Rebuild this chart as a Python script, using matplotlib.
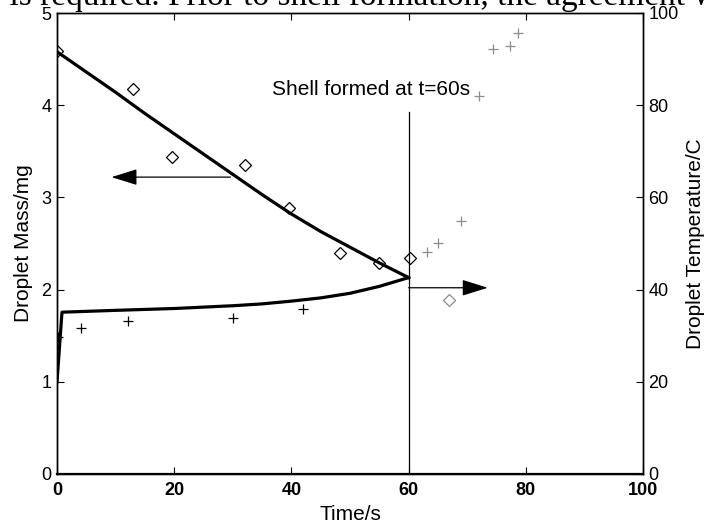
import matplotlib
matplotlib.use("Agg")
import matplotlib.pyplot as plt

plt.rcParams['font.family'] = ['Liberation Sans', 'DejaVu Sans']

# Measured droplet mass (mg) before and after shell formation
mass_t = [0, 13.0, 19.6, 32.1, 39.6, 48.3, 55.0, 60.2]
mass_val = [4.59, 4.18, 3.44, 3.35, 2.88, 2.40, 2.29, 2.34]
mass_t_after = [66.9]
mass_val_after = [1.89]

# Measured droplet temperature (C)
temp_t = [0.2, 4.1, 12.1, 30.0, 42.0]
temp_val = [29.7, 31.7, 33.2, 33.8, 35.8]
temp_t_after = [63.1, 65.0, 68.9, 72.0, 74.4, 77.3, 78.7]
temp_val_after = [48.2, 50.1, 54.9, 82.0, 92.2, 92.8, 95.7]

# Model predictions up to shell formation
model_t = [0, 5, 10, 15, 20, 25, 30, 35, 40, 45, 50, 55, 60]
model_mass = [4.58, 4.36, 4.14, 3.91, 3.69, 3.47, 3.25, 3.03, 2.82, 2.63, 2.46, 2.29, 2.13]
model_temp_t = [0, 0.85, 10, 20, 30, 35, 40, 45, 50, 55, 60]
model_temp = [20, 35.1, 35.5, 35.9, 36.5, 36.9, 37.5, 38.2, 39.2, 40.7, 42.6]

shell_time = 60
x_ticks = [0, 20, 40, 60, 80, 100]
mass_ticks = [0, 1, 2, 3, 4, 5]
temp_ticks = [0, 20, 40, 60, 80, 100]

fig = plt.figure(figsize=(7.04, 5.29), dpi=100)
ax = fig.add_axes([57 / 704, 1 - 474 / 529, 586 / 704, 461 / 529])
ax2 = ax.twinx()

gray = '0.55'

ax.plot(model_t, model_mass, color='black', lw=2.3, zorder=3,
        solid_joinstyle='round')
ax.plot(mass_t, mass_val, linestyle='none', marker='D', markersize=6,
        markerfacecolor='none', markeredgecolor='black', markeredgewidth=0.9)
ax.plot(mass_t_after, mass_val_after, linestyle='none', marker='D', markersize=6,
        markerfacecolor='none', markeredgecolor=gray, markeredgewidth=0.9)

ax2.plot(model_temp_t, model_temp, color='black', lw=2.3, zorder=3,
         solid_joinstyle='round')
ax2.plot(temp_t, temp_val, linestyle='none', marker='+', markersize=7.5,
         color='black', markeredgewidth=0.9)
ax2.plot(temp_t_after, temp_val_after, linestyle='none', marker='+', markersize=7.5,
         color=gray, markeredgewidth=0.9)

# Shell formation marker
ax.plot([shell_time, shell_time], [0, 3.93], color='black', lw=0.9)
ax.text(36.7, 4.11, 'Shell formed at t=60s', fontsize=15, ha='left', va='baseline')

# Arrows pointing each curve to its axis
arrow_style = '-|>,head_length=1.6,head_width=0.5'
ax.annotate('', xy=(9.3, 3.22), xytext=(29.6, 3.22),
            arrowprops=dict(arrowstyle=arrow_style, mutation_scale=10,
                            color='black', lw=0.9, shrinkA=0, shrinkB=0))
ax.annotate('', xy=(73.5, 2.02), xytext=(60, 2.02),
            arrowprops=dict(arrowstyle=arrow_style, mutation_scale=10,
                            color='black', lw=0.9, shrinkA=0, shrinkB=0))

ax.set_xlim(0, 100)
ax.set_ylim(0, 5)
ax2.set_ylim(0, 100)
ax.set_xticks(x_ticks)
ax.set_yticks(mass_ticks)
ax2.set_yticks(temp_ticks)

ax.tick_params(axis='x', direction='in', top=True, length=5, pad=6, labelsize=13)
ax.tick_params(axis='y', direction='in', right=False, length=5, pad=4, labelsize=13)
ax2.tick_params(axis='y', direction='in', length=5, pad=4, labelsize=13)
for lab in ax.get_xticklabels():
    lab.set_fontweight('bold')

for a in (ax, ax2):
    for s in a.spines.values():
        s.set_linewidth(1.0)
ax.spines['bottom'].set_linewidth(1.6)

ax.set_xlabel('Time/s', fontsize=15, labelpad=4)
ax.set_ylabel('Droplet Mass/mg', fontsize=15, labelpad=6)
ax2.set_ylabel('Droplet Temperature/C', fontsize=15, labelpad=5)

# Running text of the surrounding page, cut by the top edge
fig.text(-10 / 704, 1 - 5 / 529,
         'r is required. Prior to shell formation, the agreement w',
         fontsize=24, family='Liberation Serif', ha='left', va='baseline')

fig.savefig('out.png', dpi=100)
